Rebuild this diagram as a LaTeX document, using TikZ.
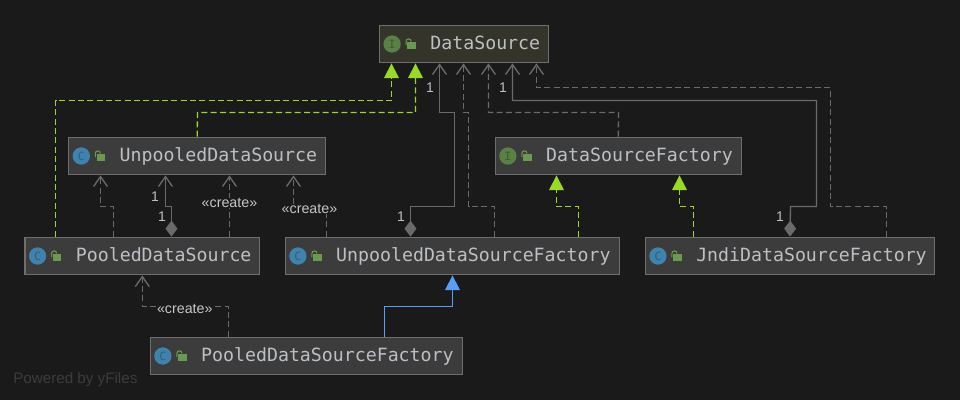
\documentclass[tikz,border=0pt]{standalone}
\usepackage{fontspec}
\setmainfont{Liberation Sans}
\setmonofont{DejaVu Sans Mono}
\usetikzlibrary{arrows.meta}
\definecolor{bgdark}{HTML}{1A1A1A}
\definecolor{boxfill}{HTML}{3C3C3C}
\definecolor{ifacefill}{HTML}{34342A}
\definecolor{edgegray}{HTML}{6A6A6A}
\definecolor{boxline}{HTML}{6E6E6E}
\definecolor{boxtext}{HTML}{BCC0C4}
\definecolor{implgreen}{HTML}{9AD925}
\definecolor{extblue}{HTML}{589DF6}
\definecolor{classblue}{HTML}{3F82AE}
\definecolor{classmarkc}{HTML}{2F5F80}
\definecolor{ifacegreen}{HTML}{5A8045}
\definecolor{ifacemarkc}{HTML}{3F5A30}
\definecolor{lockgreen}{HTML}{6A9A50}
\tikzset{
  classbox/.style={draw=boxline, fill=boxfill, line width=1.1pt, text=boxtext,
    text width=#1, align=left, inner xsep=0pt, inner ysep=0pt, minimum height=28pt,
    text height=10.5pt, text depth=3pt, font=\fontsize{13.67pt}{16pt}\selectfont\ttfamily,
    execute at begin node=\hspace*{38.2pt}},
  classmark/.style={circle, inner sep=0pt, minimum size=13pt,
    font=\fontsize{8.5pt}{8.5pt}\selectfont\ttfamily},
  open/.style={-{Straight Barb[length=7.5pt,width=10.5pt]}, edgegray, line width=1pt},
  dep/.style={open, dash pattern=on 4.5pt off 2.5pt},
  assoc/.style={{Diamond[length=12pt,width=9pt,fill=edgegray]}-{Straight Barb[length=7.5pt,width=10.5pt]}, edgegray, line width=1pt},
  impl/.style={-{Triangle[length=11pt,width=11pt,fill=implgreen]}, implgreen, line width=1pt, dash pattern=on 4.5pt off 2.5pt},
  ext/.style={-{Triangle[length=11pt,width=11pt,fill=extblue]}, extblue, line width=1pt},
  createlabel/.style={fill=bgdark, inner xsep=0pt, inner ysep=.5pt, text=black!22!white, font=\fontsize{10.7pt}{11pt}\selectfont},
  onelabel/.style={inner sep=0pt, text=black!25!white, font=\fontsize{10.5pt}{11pt}\selectfont}
}
\begin{document}
\begin{tikzpicture}[x=0.75pt,y=-0.75pt]
  \fill[bgdark] (0,0) rectangle (960,400);
  \useasboundingbox (0,0) rectangle (960,400);

  \node[classbox=126.75pt, fill=ifacefill] (dataSource) at (464,44) {DataSource};
  \node[classbox=192.75pt] (unpooled) at (197.2,156) {UnpooledDataSource};
  \node[classbox=184.5pt] (dsFactory) at (618.3,156) {DataSourceFactory};
  \node[classbox=176pt] (pooled) at (142.3,256) {PooledDataSource};
  \node[classbox=250.8pt] (unpooledFactory) at (452.5,256) {UnpooledDataSourceFactory};
  \node[classbox=217pt] (jndiFactory) at (790,256) {JndiDataSourceFactory};
  \node[classbox=234pt] (pooledFactory) at (306.3,356) {PooledDataSourceFactory};

  % icons
  \foreach \cls/\letter/\col/\markcol in {dataSource/I/ifacegreen/ifacemarkc, dsFactory/I/ifacegreen/ifacemarkc, unpooled/C/classblue/classmarkc, pooled/C/classblue/classmarkc,
      unpooledFactory/C/classblue/classmarkc, jndiFactory/C/classblue/classmarkc, pooledFactory/C/classblue/classmarkc} {
    \node[classmark, fill=\col, text=\markcol] (\cls mark) at ([xshift=10pt]\cls.west) {\letter};
    \fill[lockgreen] ([xshift=21.4pt,yshift=-3.75pt]\cls.west) rectangle +(6.5pt,5pt);
    \draw[lockgreen, line width=.8pt] ([xshift=20.5pt,yshift=-.75pt]\cls.west) -- ++(0,2.7pt) arc[start angle=180,end angle=0,radius=1.9pt];
  }

  % up to DataSource
  \draw[impl] (pooled.north -| 55.5,0) -- (55.5,100.5) -| (dataSource.south -| 391.5,0);
  \draw[impl] (unpooled.north) -- (197.5,112.5) -| (dataSource.south -| 415.5,0);
  \draw[assoc] (unpooledFactory.north -| 410.5,0) -- (410.5,206.5) -| (454.5,112.5) -| (dataSource.south -| 439.5,0);
  \draw[dep] (unpooledFactory.north -| 494.5,0) -- (494.5,206.5) -| (468.5,112.5) -| (dataSource.south -| 463.5,0);
  \draw[dep] (dsFactory.north) -- (618.5,112.5) -| (dataSource.south -| 488.5,0);
  \draw[assoc] (jndiFactory.north) -- (790.5,206.5) -| (816.5,100.5) -| (dataSource.south -| 512.5,0);
  \draw[dep] (jndiFactory.north -| 886.5,0) -- (886.5,206.5) -| (830.5,87.5) -| (dataSource.south -| 536.5,0);
  \node[onelabel] (oneA) at (430,88) {1};
  \node[onelabel] (oneB) at (503,88) {1};

  % up to UnpooledDataSource
  \draw[dep] (pooled.north -| 113.5,0) -- (113.5,206.5) -| (unpooled.south -| 100.5,0);
  \draw[assoc] (pooled.north -| 171.5,0) -- (171.5,206.5) -| (unpooled.south -| 165.5,0);
  \draw[dep] (pooled.north -| 229.5,0) -- (unpooled.south -| 229.5,0) node[pos=.55, createlabel] (createA) {«create»};
  \draw[dep] (unpooledFactory.north -| 326.5,0) -- (326.5,206.5) -| (unpooled.south -| 293.5,0);
  \node[createlabel] (createB) at (309.5,209) {«create»};
  \node[onelabel] (oneC) at (155,197) {1};
  \node[onelabel] (oneD) at (162,217) {1};
  \node[onelabel] (oneE) at (401,217) {1};
  \node[onelabel] (oneF) at (780,217) {1};

  % up to DataSourceFactory
  \draw[impl] (unpooledFactory.north -| 578.5,0) -- (578.5,206.5) -| (dsFactory.south -| 556.5,0);
  \draw[impl] (jndiFactory.north -| 693.5,0) -- (693.5,206.5) -| (dsFactory.south -| 679.5,0);

  % PooledDataSourceFactory
  \draw[dep] (pooledFactory.north -| 228.5,0) -- (228.5,306.5) -| (pooled.south);
  \node[createlabel] (createC) at (184.8,309) {«create»};
  \draw[ext] (pooledFactory.north -| 384.5,0) -- (384.5,306.5) -| (unpooledFactory.south);

  \node[anchor=west, inner sep=0pt, text=boxfill, font=\fontsize{11.4pt}{12pt}\selectfont] (poweredBy) at (13,380) {Powered by yFiles};
\end{tikzpicture}
\end{document}
